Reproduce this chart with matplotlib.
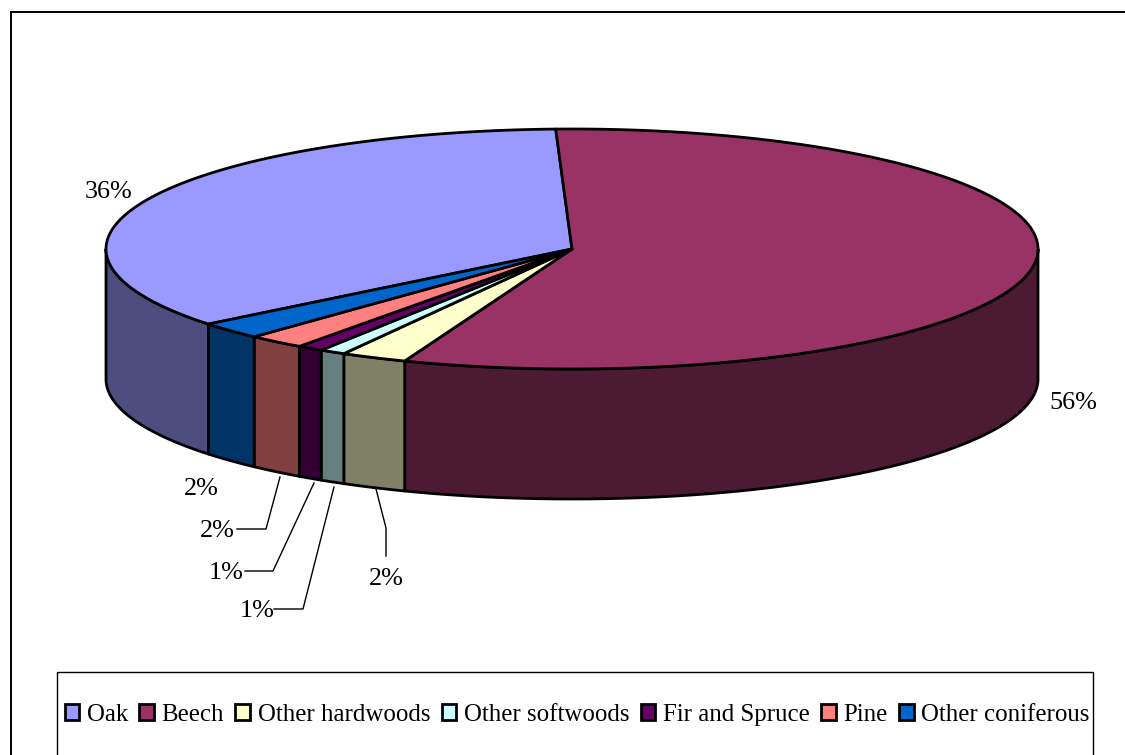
"""
3D style pie chart of forest species share
"""
import numpy as np
import matplotlib.pyplot as plt
from matplotlib.patches import Polygon, Rectangle

species = ["Oak", "Beech", "Other hardwoods", "Other softwoods", "Fir and Spruce", "Pine", "Other coniferous"]
share = [35.2, 56.4, 2.3, 0.9, 0.9, 2.0, 2.3]
pct_labels = ["36%", "56%", "2%", "1%", "1%", "2%", "2%"]
top_colors = ["#9999ff", "#993366", "#ffffcc", "#ccffff", "#660066", "#ff8080", "#0066cc"]
side_colors = ["#4d4d80", "#4d1a33", "#808066", "#668080", "#330033", "#804040", "#003366"]

# pie geometry in pixels
CX, CY = 572, 249
RX, RY = 466, 120
DEPTH = 130
START = 92.0 + share[0] / 100 * 360  # oak starts here, going clockwise

plt.rcParams['font.family'] = ['Liberation Serif', 'DejaVu Serif']

fig = plt.figure(figsize=(11.25, 7.55), dpi=100)
ax = fig.add_axes([0, 0, 1, 1])
ax.set_xlim(0, 1125)
ax.set_ylim(755, 0)
ax.axis('off')


def rim(a1, a2, n=200):
    t = np.radians(np.linspace(a1, a2, n))
    return CX + RX * np.cos(t), CY - RY * np.sin(t)


# outer frame and legend box run off the picture
ax.add_patch(Rectangle((11, 12), 1130, 760, fc='white', ec='black', lw=1.4))
ax.add_patch(Rectangle((57, 672), 1036, 100, fc='white', ec='black', lw=1.0))

# slice limits, clockwise
edges = START - np.cumsum([0] + share) / 100 * 360

# side walls
for k in range(len(share)):
    a1, a2 = edges[k], edges[k + 1]
    # keep only the front half (angles between 180 and 360, modulo)
    lo, hi = a2, a1
    shift = 360 * np.floor(lo / 360)
    lo, hi = lo - shift, hi - shift
    for wlo, whi in [(180, 360), (540, 720)]:
        l, h = max(lo, wlo), min(hi, whi)
        if h > l:
            x, y = rim(h, l)
            pts = np.column_stack([np.r_[x, x[::-1]], np.r_[y, y[::-1] + DEPTH]])
            ax.add_patch(Polygon(pts, closed=True, fc=side_colors[k], ec='black', lw=2.0, joinstyle='round'))

# top face
for k in range(len(share)):
    x, y = rim(edges[k], edges[k + 1])
    pts = np.column_stack([np.r_[CX, x], np.r_[CY, y]])
    ax.add_patch(Polygon(pts, closed=True, fc=top_colors[k], ec='black', lw=2.0, joinstyle='round'))

# percent labels and their leader lines (order: species)
label_pos = [(109, 192), (1073, 403), (386, 579), (257, 611), (226, 573), (217, 531), (201, 489)]
leaders = {2: [(376, 489), (386, 528), (386, 556)],
           3: [(334, 487), (303, 609), (274, 609)],
           4: [(314, 483), (273, 571), (245, 571)],
           5: [(280, 477), (266, 529), (237, 529)]}
for k, lab in enumerate(pct_labels):
    ax.text(label_pos[k][0], label_pos[k][1], lab, ha='center', va='center', fontsize=18.8, color='black')
    if k in leaders:
        lx, ly = zip(*leaders[k])
        ax.plot(lx, ly, color='black', lw=1.0)

# legend
handles = [Rectangle((0, 0), 1, 1, fc=c, ec='black', lw=2.0) for c in top_colors]
ax.legend(handles, species, ncol=7, loc='center', bbox_to_anchor=(577, 715), bbox_transform=ax.transData,
          frameon=False, fontsize=17.9, handlelength=0.6, handleheight=0.6, handletextpad=0.3,
          columnspacing=0.45, borderpad=0, borderaxespad=0)

fig.savefig("out.png", dpi=100)
